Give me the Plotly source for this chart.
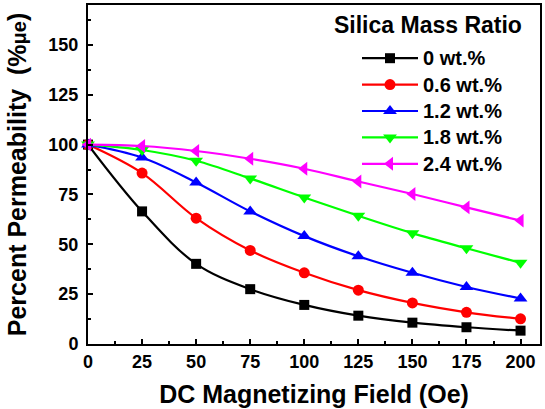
import plotly.graph_objects as go

field = [0, 25, 50, 75, 100, 125, 150, 175, 200]
series_names = ["0 wt.%", "0.6 wt.%", "1.2 wt.%", "1.8 wt.%", "2.4 wt.%"]
perm_0 = [100, 66.5, 40.2, 27.5, 19.6, 14.2, 10.7, 8.4, 6.7]
perm_06 = [100, 85.7, 63.1, 46.9, 35.7, 27.0, 20.6, 15.9, 12.6]
perm_12 = [100, 93.5, 81.0, 66.5, 54.1, 44.0, 35.7, 28.6, 22.8]
perm_18 = [100, 97.3, 91.9, 83.0, 73.5, 64.3, 55.6, 48.0, 40.7]
perm_24 = [100, 99.3, 96.8, 92.9, 87.9, 81.5, 75.2, 68.5, 61.9]
y_ticks = [0, 25, 50, 75, 100, 125, 150]
x_ticks = [0, 25, 50, 75, 100, 125, 150, 175, 200]

colors = ["#000000", "#FF0000", "#0000FF", "#00FF00", "#FF00FF"]
symbols = ["square", "circle", "triangle-up", "triangle-down", "triangle-left"]
sizes = [10, 11, 12, 12, 12]
values = [perm_0, perm_06, perm_12, perm_18, perm_24]

FONT = "Liberation Sans, Arial, sans-serif"

fig = go.Figure()
for name, vals, c, s, sz in zip(series_names, values, colors, symbols, sizes):
    fig.add_trace(go.Scatter(
        x=field, y=vals, name="<span style='font-size:20px'>" + name + "</span>",
        mode="lines+markers",
        line=dict(color=c, width=2.2, shape="spline", smoothing=1.0),
        marker=dict(color=c, symbol=s, size=sz, line=dict(width=0)),
        cliponaxis=False,
    ))

axis_common = dict(
    showline=True, linecolor="black", linewidth=2, mirror=True,
    ticks="inside", ticklen=5, tickwidth=1.5, tickcolor="black",
    showgrid=False, zeroline=False, automargin=False,
    tickfont=dict(family=FONT, size=18, color="black", weight="bold"),
)

fig.update_xaxes(
    range=[0, 209], tickvals=x_ticks,
    minor=dict(ticks="inside", ticklen=3, dtick=12.5, tick0=0, tickwidth=1.5, tickcolor="black"),
    title=dict(text="DC Magnetizing Field (Oe)", font=dict(family=FONT, size=25, color="black", weight="bold")),
    **axis_common,
)
fig.update_yaxes(
    range=[0, 170], tickvals=y_ticks,
    minor=dict(ticks="inside", ticklen=3, dtick=12.5, tick0=0, tickwidth=1.5, tickcolor="black"),
    title=dict(text="Percent Permeability &nbsp;(%<span style='font-size:20px'>μe</span>)",
               font=dict(family=FONT, size=25, color="black", weight="bold")),
    ticklabelstandoff=4,
    **axis_common,
)

fig.add_annotation(
    text="Silica Mass Ratio", xref="paper", yref="paper",
    x=(428 - 88) / 452, y=1 - (25 - 5) / 339, xanchor="center", yanchor="middle",
    showarrow=False, font=dict(family=FONT, size=23, color="black", weight="bold"),
)

fig.update_layout(
    width=545, height=409,
    margin=dict(l=88, r=5, t=5, b=65),
    paper_bgcolor="white", plot_bgcolor="white",
    showlegend=True,
    legend=dict(
        x=(357 - 88) / 452, y=1 - (40 - 5) / 339, xanchor="left", yanchor="top",
        bgcolor="rgba(0,0,0,0)", borderwidth=0, itemwidth=56,
        font=dict(family=FONT, size=18, color="black", weight="bold"),
        tracegroupgap=0,
    ),
)

fig.write_html(
    "out.html",
    config={"displayModeBar": False},
    post_script="document.body.style.margin='0';document.body.style.overflow='hidden';",
)
